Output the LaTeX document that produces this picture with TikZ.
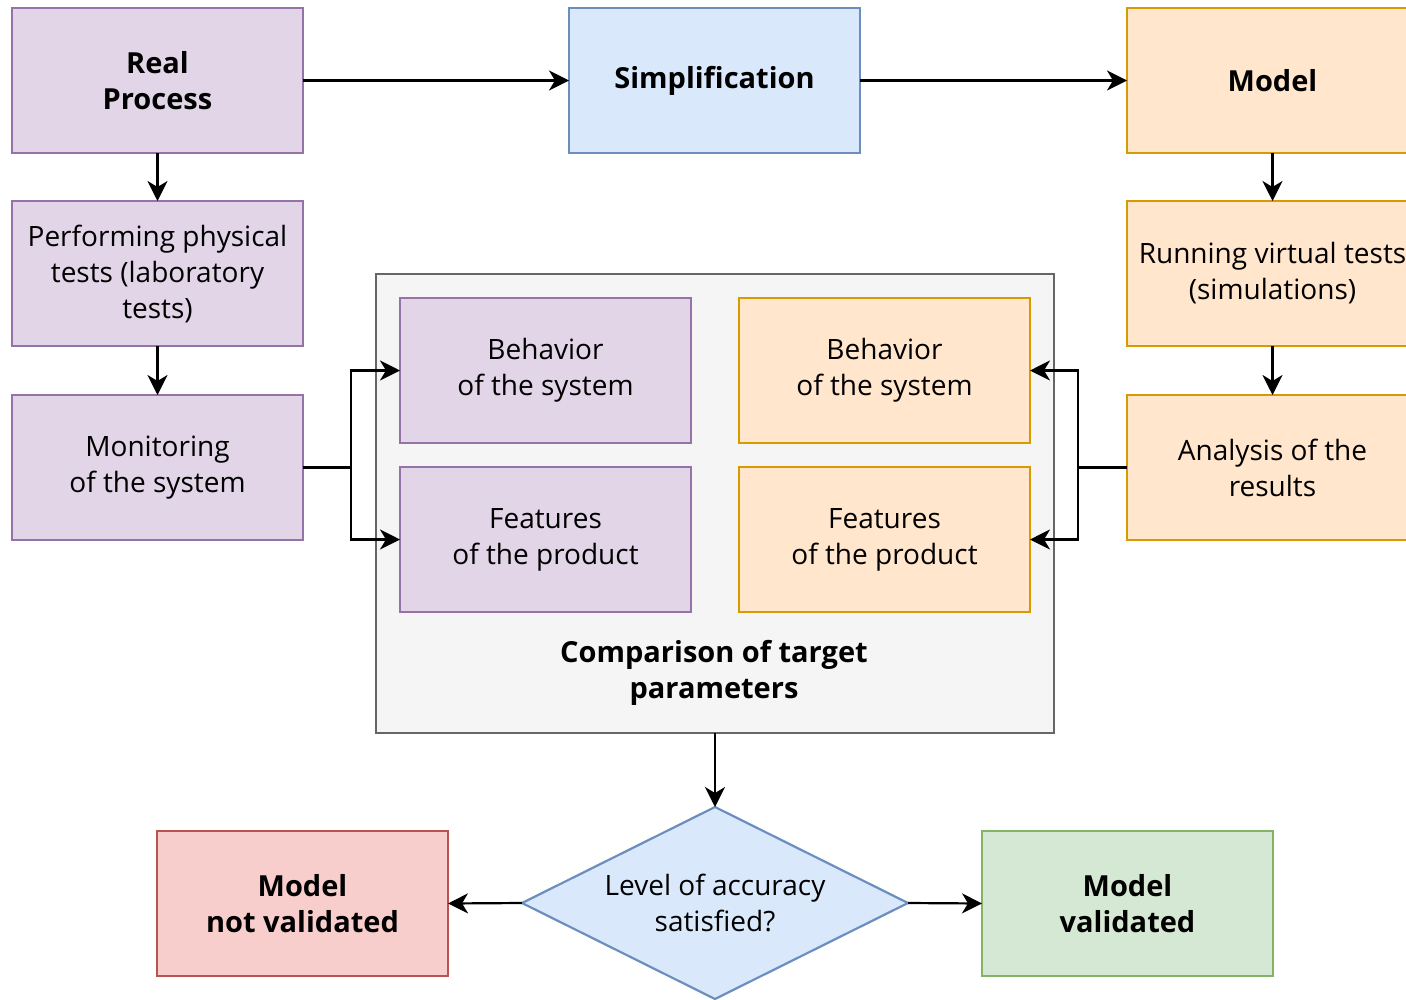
\documentclass[tikz,border=0pt]{standalone}
\usepackage{fontspec}
\setmainfont{Open Sans}
\usetikzlibrary{shapes.geometric,arrows.meta}

\definecolor{purpleFill}{HTML}{E1D5E7}
\definecolor{purpleLine}{HTML}{9673A6}
\definecolor{blueFill}{HTML}{DAE8FC}
\definecolor{blueLine}{HTML}{6C8EBF}
\definecolor{orangeFill}{HTML}{FFE6CC}
\definecolor{orangeLine}{HTML}{D79B00}
\definecolor{greyFill}{HTML}{F5F5F5}
\definecolor{greyLine}{HTML}{666666}
\definecolor{redFill}{HTML}{F8CECC}
\definecolor{redLine}{HTML}{B85450}
\definecolor{greenFill}{HTML}{D5E8D4}
\definecolor{greenLine}{HTML}{82B366}

\newcommand{\regularfont}{\fontsize{28}{36}\selectfont}
\newcommand{\headfont}{\fontsize{29}{36}\selectfont\bfseries}

\tikzset{
  x=1pt, y=-1pt,
  box/.style={rectangle, draw, line width=2.2pt, minimum width=291pt, minimum height=145pt,
    inner sep=0pt, outer sep=0pt, align=center, font=\regularfont},
  boldbox/.style={box, font=\headfont},
  purplebox/.style={fill=purpleFill, draw=purpleLine},
  bluebox/.style={fill=blueFill, draw=blueLine},
  orangebox/.style={fill=orangeFill, draw=orangeLine},
  redbox/.style={fill=redFill, draw=redLine},
  greenbox/.style={fill=greenFill, draw=greenLine},
  link/.style={draw=black, line width=2.2pt, -{Stealth[length=20pt, width=20pt, inset=6pt]}},
  plainlink/.style={draw=black, line width=2.2pt},
}

\begin{document}
\begin{tikzpicture}
\useasboundingbox (0,0) rectangle (1406,999);

% comparison container
\node[rectangle, draw=greyLine, fill=greyFill, line width=2.2pt, minimum width=678pt,
  minimum height=459pt, inner sep=0pt, outer sep=0pt] (cmp) at (715,503.5) {};
\node[align=center, font=\headfont] (cmptext) at (714,673)
  {Comparison of target\\parameters};

% top row
\node[boldbox, purplebox] (real) at (157.5,80.5) {Real\\Process};
\node[boldbox, bluebox] (simp) at (714.5,80.5) {Simplification};
\node[boldbox, orangebox] (model) at (1272.5,80.5) {Model};

% physical branch
\node[box, purplebox] (phys) at (157.5,273.5) {Performing physical\\tests (laboratory\\tests)};
\node[box, purplebox] (mon) at (157.5,467.5) {Monitoring\\of the system};

% virtual branch
\node[box, orangebox] (virt) at (1272.5,273.5) {Running virtual tests\\(simulations)};
\node[box, orangebox] (anal) at (1272.5,467.5) {Analysis of the\\results};

% compared parameters
\node[box, purplebox] (behP) at (545.5,370.5) {Behavior\\of the system};
\node[box, purplebox] (feaP) at (545.5,539.5) {Features\\of the product};
\node[box, orangebox] (behO) at (884.5,370.5) {Behavior\\of the system};
\node[box, orangebox] (feaO) at (884.5,539.5) {Features\\of the product};

% decision: rhombus drawn on the frame of an invisible node
\node[rectangle, minimum width=386pt, minimum height=192pt, inner sep=0pt, outer sep=0pt]
  (dec) at (715,903) {};
\draw[draw=blueLine, fill=blueFill, line width=2.2pt]
  (dec.north) -- (dec.east) -- (dec.south) -- (dec.west) -- cycle;
\node[align=center, font=\regularfont] (dectext) at (dec.center) {Level of accuracy\\satisfied?};

% outcomes
\node[boldbox, redbox] (notval) at (302.5,903.5) {Model\\not validated};
\node[boldbox, greenbox] (val) at (1127.5,903.5) {Model\\validated};

% connectors
\draw[link] (real) -- (simp);
\draw[link] (simp) -- (model);
\draw[link] (real) -- (phys);
\draw[link] (phys) -- (mon);
\draw[link] (model) -- (virt);
\draw[link] (virt) -- (anal);

\coordinate (jl) at (351,467.5);
\coordinate (jr) at (1078,467.5);
\draw[plainlink] (mon.east) -- (jl);
\draw[link] (jl) |- (behP.west);
\draw[link] (jl) |- (feaP.west);
\draw[plainlink] (anal.west) -- (jr);
\draw[link] (jr) |- (behO.east);
\draw[link] (jr) |- (feaO.east);

\draw[link] (cmp.south) -- (dec.north);
\draw[link] (dec.west) -- (notval.east);
\draw[link] (dec.east) -- (val.west);
\end{tikzpicture}
\end{document}
